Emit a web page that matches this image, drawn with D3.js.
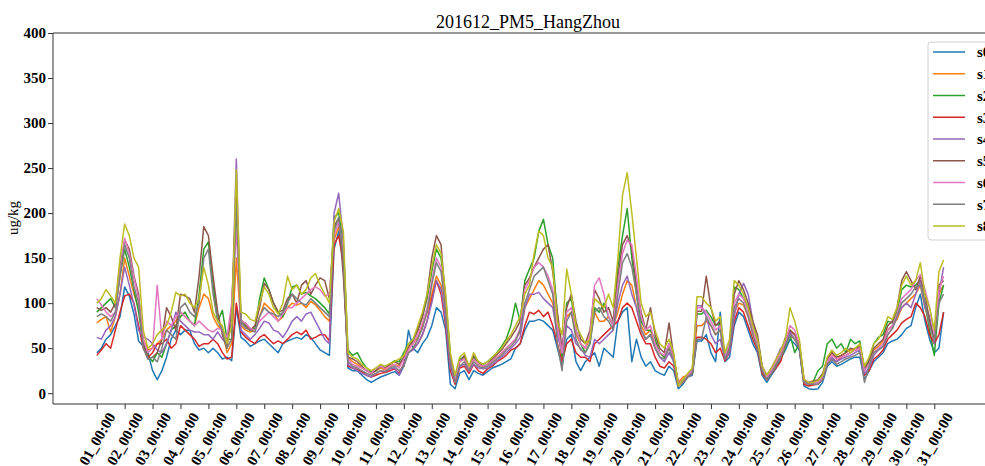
<!DOCTYPE html>
<html>
<head>
<meta charset="utf-8">
<script src="https://cdn.jsdelivr.net/npm/d3@7"></script>
<style>
  body { margin: 0; background: #fff; }
  svg { display: block; font-family: "Liberation Serif", "Times New Roman", serif; }
</style>
</head>
<body>
<svg></svg>
<script>
// one value every 4 hours, from 01_00:00 to 31_08:00
const STEP_HOURS = 4;

const seriesNames = ['s0', 's1', 's2', 's3', 's4', 's5', 's6', 's7', 's8'];
const seriesColors = ['#1f77b4', '#ff7f0e', '#2ca02c', '#d62728', '#9467bd',
                      '#8c564b', '#e377c2', '#7f7f7f', '#bcbd22'];

const tickLabels = ['01_00:00', '02_00:00', '03_00:00', '04_00:00', '05_00:00', '06_00:00',
  '07_00:00', '08_00:00', '09_00:00', '10_00:00', '11_00:00', '12_00:00', '13_00:00',
  '14_00:00', '15_00:00', '16_00:00', '17_00:00', '18_00:00', '19_00:00', '20_00:00',
  '21_00:00', '22_00:00', '23_00:00', '24_00:00', '25_00:00', '26_00:00', '27_00:00',
  '28_00:00', '29_00:00', '30_00:00', '31_00:00'];

const yTicks = [0, 50, 100, 150, 200, 250, 300, 350, 400];

const s0 = [45,50,60,65,75,85, 118,108,88,58,52,45, 25,15,25,40,60,70, 65,70,70,55,48,50, 45,50,45,38,40,36,
  95,62,58,52,55,58, 60,55,50,45,55,58, 60,62,60,65,62,55, 48,45,42,160,180,150, 28,25,25,20,15,12,
  15,18,20,22,24,20, 30,70,50,45,55,62, 75,95,90,70,10,5, 22,25,15,25,22,20, 24,28,30,32,35,38,
  50,55,70,80,80,82, 80,75,70,50,30,60, 65,35,25,35,40,45, 30,50,45,40,80,90, 95,35,60,40,30,35,
  25,22,20,30,25,5, 10,18,20,58,58,65, 45,35,90,35,40,75, 90,85,70,55,45,20, 12,20,28,38,48,60,
  55,48,8,5,4,5, 12,30,35,30,32,35, 38,40,40,15,25,35, 40,45,55,58,60,65, 72,75,95,110,80,60, 45,50,90];

const s1 = [78,82,85,68,85,110, 150,130,110,95,60,48, 50,55,60,70,75,80, 90,85,80,75,95,110, 105,85,75,70,45,55,
  150,75,70,68,70,85, 100,95,90,80,85,95, 100,98,100,95,102,98, 92,85,80,170,185,155, 40,35,32,28,25,22,
  25,28,26,30,32,30, 40,50,55,62,75,90, 110,130,120,85,35,15, 35,38,28,38,32,30, 32,36,40,44,50,55,
  60,68,95,105,115,125, 120,110,100,70,40,85, 90,65,55,50,60,90, 80,80,85,75,90,110, 125,120,95,75,65,70,
  55,45,40,50,40,12, 18,20,25,75,75,80, 75,65,70,40,50,90, 100,98,85,68,55,28, 18,25,35,45,58,70,
  65,55,15,12,14,14, 20,38,45,38,42,45, 48,50,52,28,35,48, 52,58,70,75,82,95, 100,105,110,120,95,80, 55,110,120];

const s2 = [90,95,100,105,95,130, 160,140,115,90,55,42, 35,45,40,55,70,75, 85,90,80,75,110,160, 168,120,80,92,60,60,
  215,80,75,70,72,105, 128,115,100,90,85,100, 118,120,110,112,108,105, 100,95,88,195,200,165, 48,42,45,35,28,24,
  25,30,28,32,36,35, 45,55,60,70,85,105, 135,160,150,105,42,15, 38,40,30,40,35,32, 35,40,45,52,60,75,
  100,80,125,138,150,180, 193,165,150,85,40,100, 105,70,55,45,55,95, 90,100,85,75,140,175, 205,150,110,80,70,70,
  60,45,40,55,40,10, 15,20,25,88,88,92, 85,75,78,40,55,118, 115,105,95,75,60,28, 18,25,32,40,50,65,
  45,55,14,12,13,25, 30,55,60,50,55,45, 60,55,58,25,38,55, 62,65,80,78,90,115, 120,118,120,125,100,70, 42,100,120];

const s3 = [42,48,55,50,70,90, 108,110,100,75,50,40, 45,55,55,60,50,55, 75,70,65,60,52,55, 55,60,55,45,38,40,
  100,68,62,58,55,62, 65,60,55,58,55,60, 65,68,65,70,60,62, 65,65,58,165,175,145, 30,28,26,24,20,18,
  20,22,23,25,27,22, 33,45,50,55,65,80, 105,125,110,75,25,10, 28,30,22,32,25,22, 27,30,35,38,42,48,
  50,55,75,90,88,92, 85,90,75,55,35,55, 60,45,40,40,35,55, 60,65,70,75,80,95, 100,95,80,65,55,55,
  40,30,28,35,30,8, 12,18,22,62,62,60, 55,45,50,36,45,80, 95,90,75,60,48,22, 15,22,28,35,55,65,
  60,50,10,8,9,10, 15,32,38,35,40,42, 45,48,50,20,25,38, 42,48,60,65,70,78, 82,85,100,95,85,65, 55,65,90];

const s4 = [62,60,70,75,85,110, 140,120,98,70,62,60, 55,48,45,55,70,90, 80,75,70,68,68,65, 65,60,68,60,55,80,
  260,70,65,60,65,72, 80,78,70,68,62,70, 80,85,80,88,90,80, 70,60,55,200,222,170, 32,28,25,22,20,18,
  22,25,24,27,28,20, 32,45,48,55,65,80, 100,125,115,80,30,12, 30,32,25,32,28,27, 28,32,36,40,45,50,
  55,62,95,110,110,112, 105,100,95,65,45,75, 70,55,50,42,40,60, 55,60,65,70,100,120, 130,110,95,70,60,65,
  50,40,35,45,35,10, 15,20,22,97,97,85, 65,55,60,38,45,85, 110,122,110,80,60,30, 20,28,38,50,55,68,
  60,52,13,10,11,12, 18,35,40,35,38,40, 42,45,48,22,28,42, 48,52,65,72,85,95, 100,95,110,125,95,85, 55,110,140];

const s5 = [95,92,95,90,100,140, 170,160,130,110,55,38, 40,45,60,95,85,70, 110,108,105,90,130,185, 175,130,90,65,50,95,
  220,82,75,70,75,95, 122,115,100,90,92,105, 110,100,120,125,110,120, 128,125,105,185,195,130, 40,38,35,30,25,22,
  25,30,28,32,35,32, 40,52,58,70,85,110, 150,175,165,100,40,15, 35,42,28,42,35,30, 32,38,43,48,55,62,
  70,80,120,128,140,150, 160,165,135,90,50,95, 110,80,60,55,70,115, 105,90,95,80,130,165, 175,160,120,90,70,95,
  65,50,45,78,40,10, 15,20,25,91,91,130, 95,75,80,40,50,110, 125,115,100,80,65,30, 18,25,35,45,62,70,
  65,55,15,12,13,15, 22,38,45,40,42,45, 50,48,52,28,35,50, 55,60,75,80,95,125, 135,125,115,130,110,80, 60,120,125];

const s6 = [105,98,90,85,90,135, 172,155,128,105,60,45, 50,120,60,80,75,85, 90,85,80,75,80,75, 70,68,72,70,62,100,
  180,80,78,72,70,80, 85,90,85,80,88,95, 95,100,105,110,115,118, 115,108,110,175,190,160, 38,32,30,28,25,22,
  28,30,27,30,32,28, 38,48,55,65,78,95, 125,150,140,95,38,15, 35,38,28,38,32,30, 32,36,40,45,50,55,
  60,72,115,125,140,145, 140,130,115,75,45,90, 95,70,55,50,65,120, 128,110,85,75,120,155, 170,165,130,85,70,75,
  55,45,42,55,38,10, 15,20,25,95,95,90, 80,70,75,40,55,100, 110,105,90,70,55,28, 18,25,35,45,58,75,
  70,55,15,12,12,12, 18,35,42,38,40,42, 45,48,50,25,32,45, 50,55,70,75,88,105, 110,115,125,132,115,95, 65,115,130];

const s7 = [85,88,85,80,90,130, 165,150,118,100,50,38, 40,35,50,70,65,60, 95,100,90,85,100,150, 160,110,80,70,50,60,
  210,78,72,70,68,85, 95,90,88,85,90,100, 110,105,100,98,105,100, 95,90,85,180,195,150, 35,30,28,25,22,20,
  22,25,24,28,30,25, 30,45,50,60,72,90, 120,145,135,90,35,12, 30,35,25,35,30,28, 30,34,38,42,48,52,
  58,70,100,115,130,135, 140,125,110,55,25,80, 90,60,48,45,55,90, 95,85,80,70,110,145, 155,140,110,70,60,65,
  50,40,38,50,35,8, 12,18,22,60,60,85, 75,65,70,38,48,95, 105,100,85,65,50,25, 15,22,30,40,52,65,
  60,50,12,10,10,10, 15,32,38,32,35,38, 40,42,45,12,30,45, 48,52,65,72,85,100, 105,110,118,120,100,75, 58,100,110];

const s8 = [100,105,115,108,100,150, 188,175,150,140,70,50, 55,65,70,75,90,112, 108,110,100,95,105,140, 120,90,80,75,55,75,
  248,90,88,82,80,100, 118,110,95,88,100,130, 115,120,110,115,128,133, 120,110,100,190,205,180, 45,40,38,32,28,25,
  28,32,30,33,35,38, 42,55,60,75,90,110, 140,165,155,110,45,20, 40,45,30,45,35,32, 35,40,45,50,58,65,
  75,85,110,120,155,180, 175,150,140,80,65,138, 110,75,65,55,60,105, 100,95,110,95,150,220, 245,200,150,100,85,90,
  70,55,50,60,45,8, 15,22,28,107,107,100, 95,80,85,45,60,125, 120,110,95,75,60,30, 20,28,38,48,60,95,
  80,60,15,12,12,14, 20,40,48,42,45,50, 45,50,55,30,40,55, 60,70,85,82,95,120, 130,120,125,145,110,95, 70,135,148];

const seriesValues = [s0, s1, s2, s3, s4, s5, s6, s7, s8];

const width = 985;
const height = 466;
const plotTop = 33;
const plotBottom = 404;
const plotLeft = 53;
const font = '"Liberation Serif", "Times New Roman", serif';

const svg = d3.select("svg")
  .attr("width", width)
  .attr("height", height);

// x in hours since 01_00:00
const x = d3.scaleLinear()
  .domain([-37.6, 790])
  .range([plotLeft, 1015.7]);

const y = d3.scaleLinear()
  .domain([-12, 400])
  .range([plotBottom, plotTop]);

const line = d3.line()
  .x((d, i) => x(i * STEP_HOURS))
  .y(d => y(d));

const chartGroup = svg.append("g");

chartGroup.selectAll(".series")
  .data(seriesValues)
  .enter().append("path")
  .attr("class", "series")
  .attr("d", d => line(d))
  .attr("fill", "none")
  .attr("stroke", (d, i) => seriesColors[i])
  .attr("stroke-width", 1.5)
  .attr("stroke-linejoin", "round");

// y axis
const yAxis = svg.append("g")
  .attr("transform", `translate(${plotLeft},0)`)
  .call(d3.axisLeft(y).tickValues(yTicks).tickSize(5).tickPadding(2).tickSizeOuter(0));
yAxis.select(".domain").attr("stroke", "#333").attr("d", `M0,${plotTop}V${plotBottom}`);
yAxis.selectAll(".tick line").attr("stroke", "#333");
yAxis.selectAll(".tick text")
  .attr("font-family", font)
  .attr("font-size", 15)
  .attr("font-weight", "bold")
  .attr("fill", "#000");

// x axis with rotated day labels
const xAxis = svg.append("g")
  .attr("transform", `translate(0,${plotBottom})`)
  .call(d3.axisBottom(x)
    .tickValues(tickLabels.map((t, i) => i * 24))
    .tickFormat((d, i) => tickLabels[i])
    .tickSize(5)
    .tickSizeOuter(0));
xAxis.select(".domain").attr("stroke", "#333").attr("d", `M${plotLeft},0H${width}`);
xAxis.selectAll(".tick line").attr("stroke", "#333");
xAxis.selectAll(".tick text")
  .attr("x", 0)
  .attr("y", 0)
  .attr("dy", null)
  .attr("text-anchor", "middle")
  .attr("dominant-baseline", "central")
  .attr("transform", "translate(0,35) rotate(-60)")
  .attr("font-family", font)
  .attr("font-size", 15)
  .attr("font-weight", "bold")
  .attr("fill", "#000");

// top spine
svg.append("line")
  .attr("x1", plotLeft).attr("x2", width)
  .attr("y1", plotTop).attr("y2", plotTop)
  .attr("stroke", "#333");

svg.append("text")
  .attr("x", 528)
  .attr("y", 28)
  .attr("text-anchor", "middle")
  .attr("font-size", 18)
  .text("201612_PM5_HangZhou");

svg.append("text")
  .attr("transform", "translate(18,218) rotate(-90)")
  .attr("text-anchor", "middle")
  .attr("font-size", 15)
  .text("ug/kg");

// legend (cut by the right edge like the original)
const legend = svg.append("g").attr("transform", "translate(928,42)");
legend.append("rect")
  .attr("width", 90)
  .attr("height", 198)
  .attr("rx", 3)
  .attr("fill", "#fff")
  .attr("fill-opacity", 0.8)
  .attr("stroke", "#d0d0d0");

const legendItems = legend.selectAll(".legend-item")
  .data(seriesNames)
  .enter().append("g")
  .attr("class", "legend-item")
  .attr("transform", (d, i) => `translate(0,${10 + i * 21.75})`);

legendItems.append("line")
  .attr("x1", 5).attr("x2", 37)
  .attr("stroke", (d, i) => seriesColors[i])
  .attr("stroke-width", 1.5);

legendItems.append("text")
  .attr("x", 49)
  .attr("dy", "0.35em")
  .attr("font-size", 15)
  .attr("font-weight", "bold")
  .text(d => d);
</script>
</body>
</html>
